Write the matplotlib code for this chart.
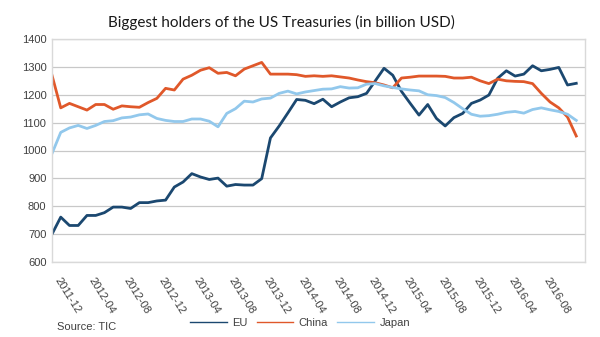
import matplotlib
matplotlib.use('Agg')
import matplotlib.pyplot as plt
import pandas as pd

# monthly, 2011-11 .. 2016-11 (billion USD)
months = pd.period_range('2011-11', '2016-11', freq='M').strftime('%Y-%m').tolist()

eu = [700, 761, 731, 731, 767, 767, 777, 797, 797, 792, 813, 813, 819, 822, 869, 887,
      917, 905, 896, 901, 872, 878, 876, 876, 899, 1045, 1088, 1135, 1183, 1180, 1168,
      1184, 1157, 1174, 1189, 1193, 1205, 1250, 1295, 1270, 1212, 1169, 1127, 1165,
      1115, 1088, 1118, 1133, 1169, 1181, 1199, 1259, 1286, 1267, 1274, 1304, 1286,
      1291, 1298, 1235, 1241]
china = [1270, 1153, 1169, 1157, 1145, 1165, 1165, 1148, 1160, 1157, 1155, 1172, 1187,
         1223, 1217, 1256, 1270, 1288, 1297, 1277, 1280, 1268, 1292, 1304, 1316, 1274,
         1274, 1274, 1272, 1266, 1268, 1266, 1268, 1264, 1260, 1253, 1247, 1243, 1235,
         1225, 1260, 1263, 1267, 1267, 1267, 1266, 1260, 1260, 1263, 1250, 1240, 1256,
         1250, 1248, 1247, 1240, 1205, 1174, 1153, 1120, 1052]
japan = [989, 1065, 1081, 1090, 1079, 1090, 1104, 1107, 1117, 1120, 1128, 1131, 1115,
         1108, 1104, 1104, 1113, 1113, 1105, 1085, 1133, 1150, 1177, 1174, 1185, 1188,
         1205, 1213, 1203, 1210, 1215, 1220, 1221, 1229, 1224, 1225, 1238, 1240, 1232,
         1226, 1221, 1217, 1214, 1200, 1197, 1190, 1172, 1150, 1130, 1123, 1125, 1130,
         1137, 1140, 1134, 1147, 1153, 1146, 1140, 1130, 1108]

tick_idx = list(range(1, len(months), 4))
tick_labels = [months[i] for i in tick_idx]

plt.rcParams['font.family'] = ['Liberation Sans Narrow', 'Liberation Sans', 'DejaVu Sans']

fig = plt.figure(figsize=(6, 3.37), dpi=100)
ax = fig.add_axes([52/600, 1 - 262/337, 533/600, 223/337])

x = range(len(months))
ax.plot(x, eu, color='#1b4870', lw=2.0, label='EU')
ax.plot(x, china, color='#e0582a', lw=2.0, label='China')
ax.plot(x, japan, color='#92c8ec', lw=2.0, label='Japan')

ax.set_ylim(600, 1400)
ax.set_yticks(range(600, 1401, 100))
ax.set_xlim(0, 61)
ax.set_xticks(tick_idx)
ax.set_xticklabels(tick_labels, rotation=-58, ha='left', va='top', rotation_mode='anchor')
ax.tick_params(length=0, labelsize=8, colors='#404040', pad=4)
ax.tick_params(axis='x', pad=10)
ax.grid(axis='y', color='#c8c8c8', lw=0.9)
ax.set_axisbelow(True)
for s in ax.spines.values():
    s.set_color('#d9d9d9')
    s.set_linewidth(1.0)

fig.text(281/600, 1 - 22/337, 'Biggest holders of the US Treasuries (in billion USD)',
         ha='center', va='center', fontsize=11, family=['Lato', 'DejaVu Sans'], color='#1a1a1a')

leg = fig.legend(loc='center', bbox_to_anchor=(0.5, 1 - 323/337), ncol=3, frameon=False,
                 fontsize=8, handlelength=3.3, handletextpad=0.5, columnspacing=0.8)
for h in leg.get_lines():
    h.set_linewidth(1.0)
for t in leg.get_texts():
    t.set_color('#404040')

fig.text(57/600, 1 - 327/337, 'Source: TIC', ha='left', va='center', fontsize=8, color='#404040')

fig.savefig('out.png', dpi=100)
